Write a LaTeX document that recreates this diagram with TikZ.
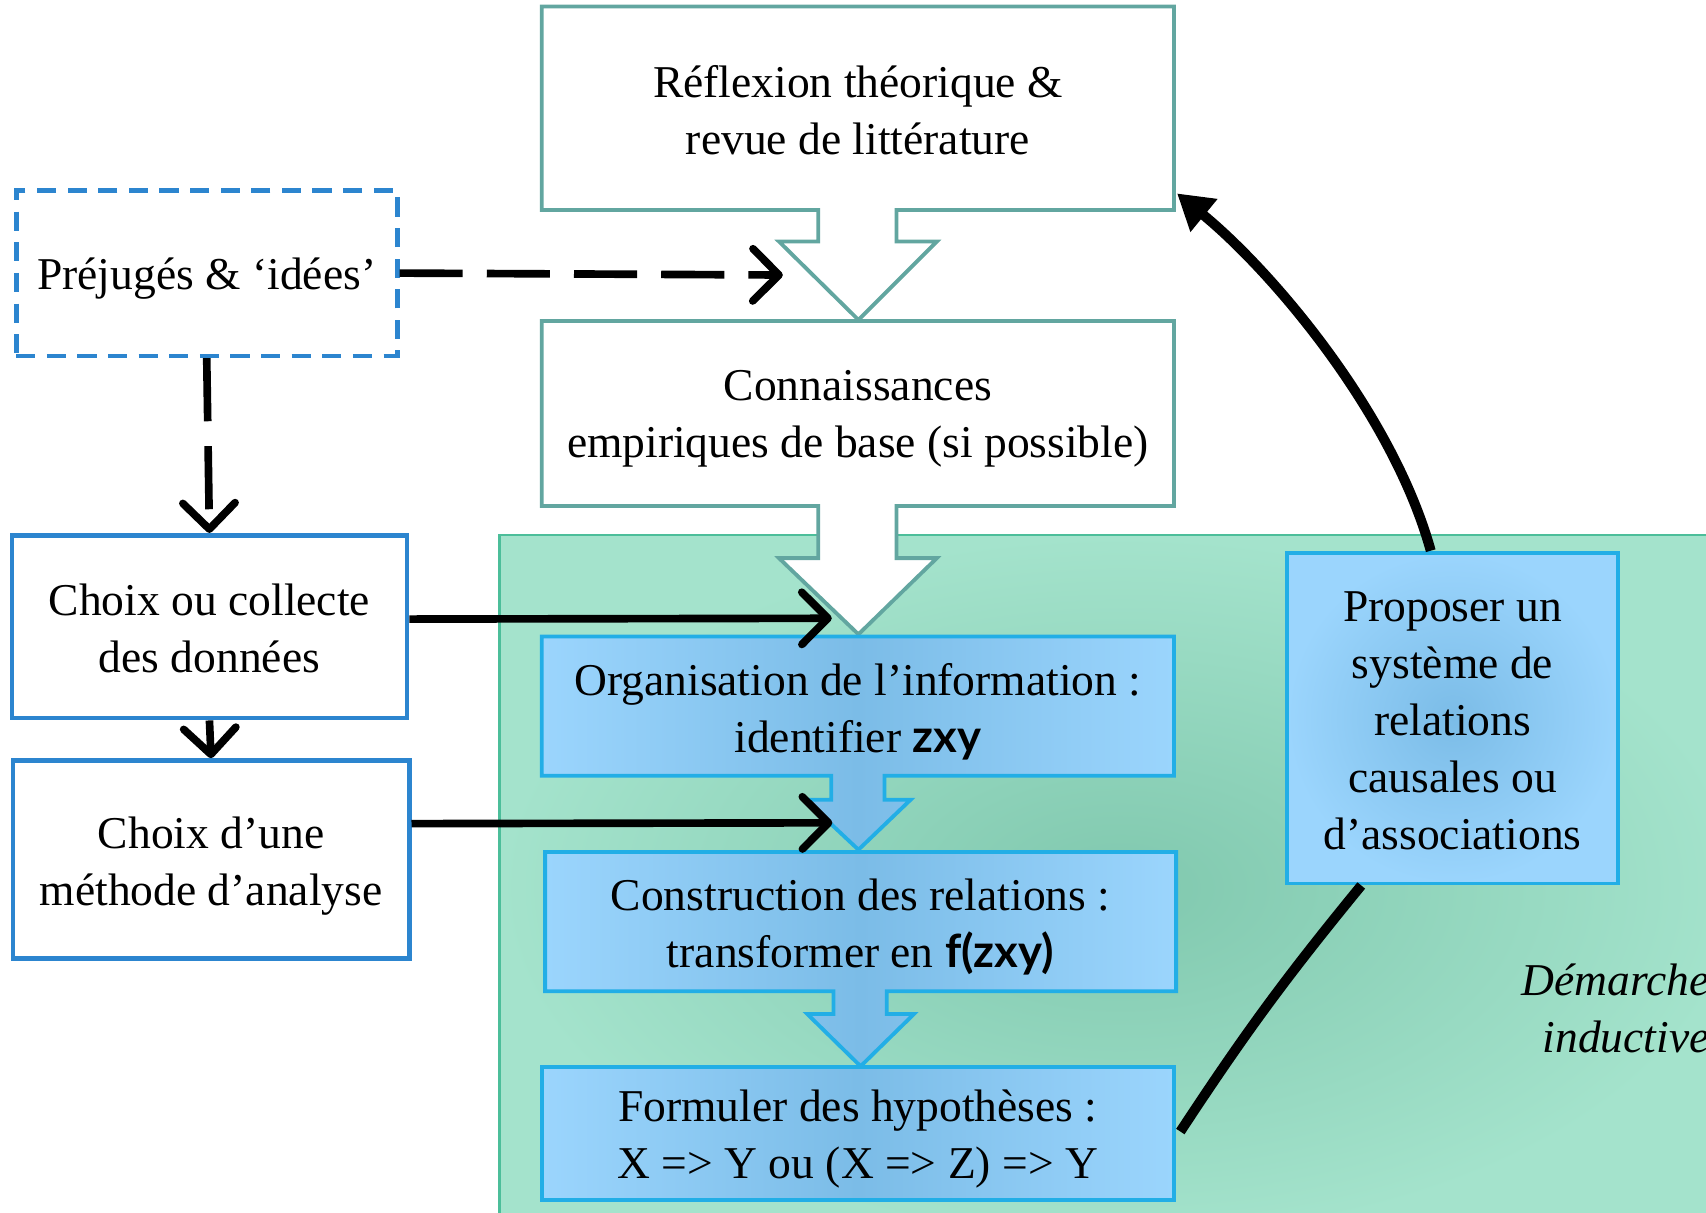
\documentclass[tikz,border=0pt]{standalone}
\usepackage{fontspec}
\setmainfont{Liberation Serif}
\newfontfamily\zxyfont{Lato}
\usepackage{tikz}
\usetikzlibrary{arrows.meta, calc}

\definecolor{tealline}{HTML}{62A6A0}
\definecolor{cyanline}{HTML}{22AEE6}
\definecolor{blueline}{HTML}{2C85CF}
\definecolor{greenline}{HTML}{4CBE9A}
\definecolor{greenin}{HTML}{80C8AE}
\definecolor{greenout}{HTML}{A4E3CC}
\definecolor{bluein}{HTML}{7BBCE7}
\definecolor{blueout}{HTML}{9BD5FD}

\newcommand{\strutup}[1]{\rule{0pt}{#1}}

\tikzset{
  whitecall/.style={draw=tealline, line width=1pt, fill=white},
  bluecall/.style={draw=cyanline, line width=1pt, left color=blueout, right color=blueout, middle color=bluein},
  txt/.style={align=center, inner sep=0pt},
  leftbox/.style={draw=blueline, line width=1.2pt, fill=white, align=center, inner sep=0pt},
  flow/.style={line width=2pt, -{Straight Barb[length=2.4mm,width=4.8mm,round]}},
  cycleline/.style={line width=2.6pt}
}

\begin{document}
\begin{tikzpicture}[x=0.01cm, y=-0.01cm, font=\fontsize{11.9}{14.9}\selectfont]
\useasboundingbox (0,0) rectangle (1568,1114);

% fond vert
\draw[draw=greenline, line width=0.6pt, inner color=greenin, outer color=greenout] (459,492) rectangle (1600,1140);

% boites fleches
\draw[whitecall] (498,6) -- (1079,6) -- (1079,193) -- (824,193) -- (824,222) -- (861,222) -- (789,294) -- (716,222) -- (752,222) -- (752,193) -- (498,193) -- cycle;
\draw[whitecall] (498,295) -- (1079,295) -- (1079,465) -- (824,465) -- (824,513) -- (861,513) -- (789,583) -- (716,513) -- (752,513) -- (752,465) -- (498,465) -- cycle;
\draw[bluecall] (498,585) -- (1079,585) -- (1079,713) -- (813,713) -- (813,735) -- (837,735) -- (789,781) -- (740,735) -- (764,735) -- (764,713) -- (498,713) -- cycle;
\draw[bluecall] (501,783) -- (1081,783) -- (1081,911) -- (815,911) -- (815,932) -- (840,932) -- (791,980) -- (742,932) -- (766,932) -- (766,911) -- (501,911) -- cycle;
\draw[bluecall] (498,981) rectangle (1079,1103);

\node[txt, minimum width=5.81cm, minimum height=1.87cm] (reflexion) at (788.5,99.5) {\strutup{9.3pt}Réflexion théorique \&\\revue de littérature};
\node[txt, minimum width=5.81cm, minimum height=1.70cm] (connaissances) at (788.5,380) {\strutup{10.9pt}Connaissances\\empiriques de base (si possible)};
\node[txt, minimum width=5.81cm, minimum height=1.28cm] (organisation) at (788.5,649) {\strutup{11.1pt}Organisation de l’information :\\identifier {\zxyfont\bfseries zxy}};
\node[txt, minimum width=5.80cm, minimum height=1.28cm] (construction) at (791,847) {\strutup{10.9pt}Construction des relations :\\transformer en {\zxyfont\bfseries f(zxy)}};
\node[txt, minimum width=5.81cm, minimum height=1.22cm] (formuler) at (788.5,1042) {\strutup{10.9pt}Formuler des hypothèses :\\X => Y ou (X => Z) => Y};

\node[draw=cyanline, line width=1pt, inner color=bluein, outer color=blueout, txt, minimum width=3.04cm, minimum height=3.04cm] (proposer) at (1335,660) {\strutup{9.1pt}Proposer un\\système de\\relations\\causales ou\\d’associations};
\node[anchor=east, align=right, inner sep=0pt, font=\fontsize{11.9}{14.9}\selectfont\itshape] (demarche) at (1572,927) {Démarche\\inductive};

% boites a gauche
\node[leftbox, dashed, dash pattern=on 5pt off 3pt, minimum width=3.50cm, minimum height=1.52cm] (prejuges) at (190,251) {\strutup{11pt}Préjugés \& ‘idées’};
\node[leftbox, minimum width=3.63cm, minimum height=1.68cm] (choix) at (192.5,576) {\strutup{9pt}Choix ou collecte\\des données};
\node[leftbox, minimum width=3.64cm, minimum height=1.82cm] (methode) at (194,790) {\strutup{11.5pt}Choix d’une\\méthode d’analyse};

% fleches
\draw[flow, dash pattern=on 16.5pt off 6.3pt] (prejuges.east) -- ($(reflexion.south)+(-69,59)$);
\draw[flow, dash pattern=on 16.5pt off 6.5pt] (prejuges.south) -- (choix.north);
\draw[flow] (choix.south) -- (methode.north);
\draw[flow] ($(choix.east)+(0,-7)$) -- ($(organisation.north)+(-24,-16)$);
\draw[flow] ($(methode.east)+(0,-33)$) -- ($(construction.north)+(-26,-26)$);

% boucle
\draw[cycleline] ($(formuler.east)+(5,-2)$) to[bend left=3] ($(proposer.south west)+(70,0)$);
\draw[cycleline, -{Triangle[length=3.2mm,width=3.7mm]}] ($(proposer.north)+(-20,0)$) .. controls (1280,380) and (1170,250) .. ($(reflexion.south east)+(2,-16)$);

\end{tikzpicture}
\end{document}
